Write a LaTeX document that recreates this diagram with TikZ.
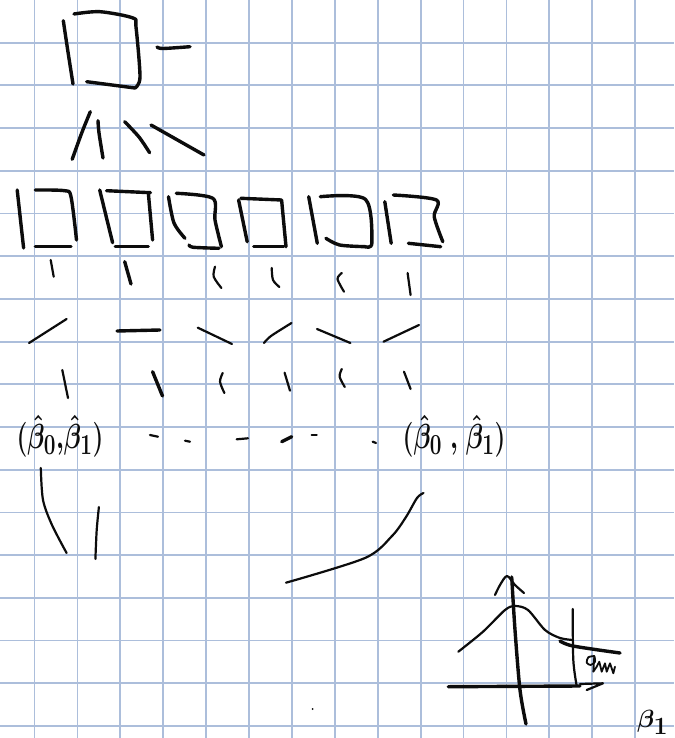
\documentclass[tikz,border=0pt]{standalone}
\begin{document}
\begin{tikzpicture}[x=1pt,y=-1pt,
  ink/.style={line width=3.4pt, line cap=round, line join=round, draw=inkc},
  thinink/.style={line width=2.2pt, line cap=round, line join=round, draw=inkc},
  gridline/.style={line width=1.8pt, draw=gridc},
  lbl/.style={inner sep=0pt, text=inkc}]
\definecolor{inkc}{RGB}{12,12,12}
\definecolor{gridc}{RGB}{172,190,219}
\useasboundingbox (0,0) rectangle (674,738);
\fill[white] (0,0) rectangle (674,738);
% grid paper
\foreach \k in {0,...,14} {\draw[gridline] ({34.5+42.9*\k},0) -- ({34.5+42.9*\k},738);}
\foreach \k in {1,...,17} {\draw[gridline] (0,{42.7*\k}) -- (674,{42.7*\k});}
% top box and dash
\draw[ink] plot[smooth] coordinates {(63.3,20.7) (68,52) (73,84)};
\draw[ink] plot[smooth,tension=0.5] coordinates {(74,14) (100,11.7) (133,18) (136,27) (140,77) (135,88)};
\draw[ink] (86.7,81.7) -- (135,88);
\draw[ink] plot[smooth] coordinates {(157,47) (163,48.5) (190,46.7)};
% branches
\draw[ink] plot[smooth] coordinates {(90.3,111.7) (81.7,133) (72.2,159.3)};
\draw[ink] plot[smooth] coordinates {(98,120.7) (99,133) (103,158)};
\draw[ink] plot[smooth] coordinates {(124.7,121.7) (139,137) (149.6,152.7)};
\draw[ink] (151,125) -- (204,155);
% row of six boxes
\draw[ink] (17.2,190) -- (23.6,248);
\draw[ink] plot[smooth,tension=0.5] coordinates {(35.3,190) (64.5,190.7) (71,196.7) (76.5,240)};
\draw[ink] (35.3,246.7) -- (71,246.7);
\draw[ink] (99.7,190) -- (112.6,242.7);
\draw[ink] (106.6,190.7) -- (150.5,192.7);
\draw[ink] (148.3,192.7) -- (152.6,240);
\draw[ink] (115.2,246.7) -- (148.3,246.7);
\draw[ink] plot[smooth] coordinates {(168.5,196.7) (174,223) (185,238.3)};
\draw[ink] plot[smooth,tension=0.5] coordinates {(176.3,193.3) (212.8,198.3) (215,220) (221.4,246.7)};
\draw[ink] plot[smooth] coordinates {(189,245) (193.5,247.3) (219,248.3)};
\draw[ink] (238.6,200) -- (247.2,241.7);
\draw[ink] (240.8,198.3) -- (281.6,200) -- (286,246.7);
\draw[ink] (253.7,246.7) -- (283.7,246.7);
\draw[ink] (308.7,196.7) -- (317.3,243.3);
\draw[ink] plot[smooth,tension=0.5] coordinates {(320.3,196.7) (365.4,199.3) (371.9,242.7) (365.4,246.7)};
\draw[ink] plot[smooth] coordinates {(325.9,238.3) (339.6,245) (365.4,246.7)};
\draw[ink] (384.8,201.7) -- (391.2,243.3);
\draw[ink] plot[smooth,tension=0.5] coordinates {(393.4,195) (436.4,200) (434.2,216.7) (442.8,241.7)};
\draw[ink] (408.4,243.3) -- (440.7,246.7);
% first row of ticks
\draw[thinink] (50.7,260) -- (53.7,276.7);
\draw[ink] (124.7,261.7) -- (131,284);
\draw[thinink] plot[smooth] coordinates {(215,266.7) (213.7,276.7) (221.4,288)};
\draw[thinink] plot[smooth] coordinates {(271.7,268) (273,280) (279.4,287)};
\draw[thinink] plot[smooth] coordinates {(341.8,273) (337.5,279) (344,291.7)};
\draw[thinink] (407.6,273) -- (410.6,295);
% slanted strokes
\draw[thinink] (29,343) -- (66.6,319);
\draw[ink] (117,331) -- (160,330);
\draw[thinink] (197.8,327.7) -- (232,344);
\draw[thinink] plot[smooth] coordinates {(264,343) (271,336) (291.5,323)};
\draw[thinink] (317,329) -- (350.4,343);
\draw[thinink] (383.5,341.7) -- (419,325);
% second row of ticks
\draw[thinink] (62.3,370) -- (68,398);
\draw[ink] (152.6,371.7) -- (162.5,396);
\draw[thinink] plot[smooth] coordinates {(222.7,373) (220,381.7) (224.4,393)};
\draw[thinink] (284.6,372.7) -- (290,390.7);
\draw[thinink] plot[smooth] coordinates {(341.8,369) (339.6,376.7) (344.8,387)};
\draw[thinink] (404,371.7) -- (410.6,389);
% labels and dashes
\node[lbl, font=\fontsize{32}{36}\selectfont\boldmath] (b1) at (60,436) {\scalebox{1}[1.4]{$(\hat\beta_0{,}\hat\beta_1)$}};
\node[lbl, font=\fontsize{32}{36}\selectfont\boldmath] (b2) at (454,436) {\scalebox{1}[1.4]{$(\hat\beta_0\;{,}\;\hat\beta_1)$}};
\draw[thinink] (150,435) -- (158,436.7);
\draw[thinink] (185,440.7) -- (190,441.7);
\draw[thinink] (236.7,439.3) -- (248,438.3);
\draw[ink] (281.7,441.7) -- (291.7,436.7);
\draw[thinink] (311.7,435) -- (316.7,435);
\draw[thinink] (372.7,441.7) -- (376,443);
% lower strokes
\draw[thinink] plot[smooth] coordinates {(40.8,468) (43,500) (52,525) (66.6,553)};
\draw[thinink] plot[smooth] coordinates {(98.9,507) (96.7,530) (95.4,559)};
\draw[thinink] plot[smooth] coordinates {(286,582.7) (365,558) (392,536) (406,517) (417,498) (423.5,493)};
\fill[inkc] (312.6,709) circle (1pt);
% distribution sketch
\draw[ink] plot[smooth] coordinates {(511.7,577) (515,630) (520,690) (526,724)};
\draw[thinink] plot[smooth] coordinates {(495,595) (500,585) (507,576) (515,585) (524,593)};
\draw[ink] (448.3,686.7) -- (580,686);
\draw[thinink] (580,684) -- (603,683.3) -- (586.7,690);
\draw[thinink] plot[smooth] coordinates {(458.3,651.7) (483,631.7) (505,610) (515,606) (528,610) (545,630) (560,638) (573,640)};
\draw[thinink] plot[smooth] coordinates {(572.7,609) (573.3,660) (576.7,686)};
\draw[ink] plot[smooth] coordinates {(560,641) (573,646) (620,653)};
\draw[line width=1.8pt, line cap=round, line join=round, draw=inkc] plot[smooth] coordinates {(594.3,656) (588.3,657.3) (586.7,662.7) (590.7,665) (595,661.7) (594.3,656)};
\draw[line width=1.8pt, line cap=round, line join=round, draw=inkc] (594.3,656) -- (593.3,671.7) -- (596.7,666.7) -- (599.3,661.7) -- (601.7,671.7) -- (605,663.3) -- (606.7,671.7) -- (610,663.3) -- (613.3,673.3) -- (615,666.7);
\node[lbl, anchor=base west, font=\fontsize{36}{40}\selectfont\boldmath] (beta) at (637,727) {$\beta_1$};
\end{tikzpicture}
\end{document}
